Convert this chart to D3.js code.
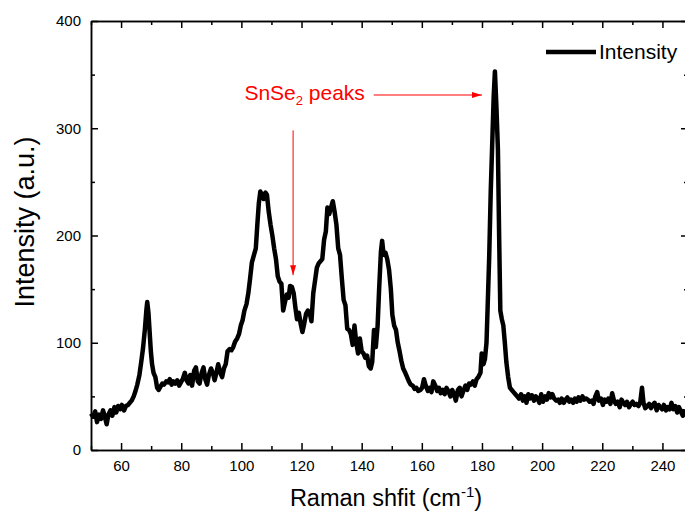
<!DOCTYPE html>
<html>
<head>
<meta charset="utf-8">
<script src="https://cdn.jsdelivr.net/npm/d3@7"></script>
<style>
  body { margin: 0; background: #fff; }
  svg { display: block; font-family: "Liberation Sans", Arial, sans-serif; }
</style>
</head>
<body>
<div id="chart"></div>
<script>
// Raman spectrum
let shift = [50, 50.7, 51.4, 52, 52.7, 53.3, 54, 54.6, 55.2, 55.8, 56.5, 57.1, 57.8, 58.4, 59, 59.7, 60.3, 61, 61.6, 62.3, 62.9, 63.5, 64.2, 64.8, 65.4, 66.1, 66.7, 67.3, 67.9, 68.4, 68.7, 69.1, 69.5, 69.9, 70.3, 70.8, 71.4, 72, 72.5, 73.1, 73.7, 74.3, 75, 75.6, 76.2, 76.8, 77.4, 78, 78.7, 79.3, 79.9, 80.5, 81.2, 81.8, 82.4, 83, 83.6, 84.3, 84.9, 85.5, 86.1, 86.8, 87.4, 88, 88.6, 89.2, 89.9, 90.5, 91.1, 91.7, 92.3, 93, 93.6, 94.2, 94.8, 95.4, 96.1, 96.7, 97.3, 97.9, 98.6, 99.2, 99.8, 100.4, 101, 101.7, 102.3, 102.9, 103.5, 104.1, 104.8, 105.3, 105.8, 106.3, 106.9, 107.4, 108, 108.5, 109.1, 109.7, 110.3, 110.9, 111.5, 112.1, 112.7, 113.3, 113.9, 114.5, 115.1, 115.7, 116.2, 116.8, 117.4, 118, 118.5, 119.1, 119.7, 120.3, 120.9, 121.5, 122.1, 122.7, 123.3, 123.9, 124.5, 125.1, 125.7, 126.3, 126.9, 127.5, 128.1, 128.6, 129.2, 129.8, 130.4, 131, 131.6, 132.2, 132.8, 133.4, 134, 134.6, 135.2, 135.8, 136.4, 137, 137.6, 138.2, 138.8, 139.4, 140, 140.6, 141.2, 141.8, 142.4, 143, 143.5, 144.1, 144.7, 145.3, 145.8, 146.4, 146.8, 147.3, 147.9, 148.5, 149.1, 149.7, 150.2, 150.8, 151.4, 152, 152.6, 153.2, 153.8, 154.5, 155.1, 155.7, 156.3, 157, 157.6, 158.2, 158.8, 159.5, 160.1, 160.7, 161.3, 162, 162.6, 163.2, 163.8, 164.5, 165.1, 165.7, 166.3, 167, 167.6, 168.2, 168.8, 169.5, 170.1, 170.7, 171.3, 172, 172.6, 173.2, 173.8, 174.5, 175.1, 175.7, 176.3, 177, 177.6, 178.2, 178.8, 179.5, 179.9, 180.5, 181, 181.5, 181.9, 182.4, 182.9, 183.4, 183.9, 184.3, 184.8, 185.3, 185.7, 186.1, 186.6, 187.1, 187.6, 188.1, 188.7, 189.3, 189.9, 190.5, 191.1, 191.7, 192.3, 193, 193.6, 194.2, 194.8, 195.4, 196, 196.6, 197.3, 197.9, 198.5, 199.1, 199.7, 200.3, 201, 201.6, 202.2, 202.8, 203.4, 204, 204.7, 205.3, 205.9, 206.5, 207.2, 207.8, 208.4, 209, 209.6, 210.3, 210.9, 211.5, 212.1, 212.7, 213.4, 214, 214.6, 215.2, 215.8, 216.5, 217.1, 217.7, 218.3, 218.9, 219.6, 220.2, 220.8, 221.4, 222, 222.7, 223.3, 223.9, 224.5, 225.1, 225.8, 226.4, 227, 227.6, 228.2, 228.9, 229.5, 230.1, 230.7, 231.3, 232, 232.6, 233.2, 233.7, 234.3, 235, 235.6, 236.2, 236.8, 237.4, 238.1, 238.7, 239.3, 239.9, 240.5, 241.2, 241.8, 242.4, 243, 243.6, 244.3, 244.9, 245.5, 246.1, 246.8, 247.4];
let intensity = [34, 31, 36, 26, 33, 29, 37, 31, 24, 33, 37, 32, 40, 35, 41, 38, 42, 37, 41, 42, 44, 46, 50, 55, 61, 70, 82, 95, 112, 130, 138, 128, 110, 92, 80, 72, 68, 58, 56, 59, 62, 61, 64, 63, 66, 61, 64, 62, 65, 60, 63, 66, 72, 65, 62, 70, 60, 74, 77, 64, 62, 72, 77, 66, 61, 70, 76, 72, 65, 72, 80, 72, 68, 76, 80, 92, 94, 93, 96, 101, 104, 108, 116, 121, 130, 136, 146, 160, 175, 181, 188, 210, 230, 241, 238, 234, 240, 238, 222, 210, 200, 188, 178, 162, 157, 155, 130, 138, 145, 142, 153, 152, 146, 132, 122, 128, 118, 110, 118, 127, 130, 128, 120, 146, 158, 170, 174, 176, 178, 196, 204, 226, 220, 226, 232, 222, 210, 188, 182, 160, 140, 135, 113, 112, 108, 98, 116, 100, 90, 104, 92, 90, 86, 88, 78, 76, 82, 112, 96, 116, 150, 185, 195, 182, 184, 178, 168, 150, 126, 116, 112, 100, 92, 83, 76, 72, 68, 64, 61, 60, 57, 58, 55, 56, 58, 66, 60, 55, 58, 54, 64, 60, 55, 58, 53, 56, 52, 58, 55, 50, 56, 52, 46, 56, 58, 50, 55, 60, 56, 62, 61, 64, 60, 66, 68, 72, 90, 80, 85, 100, 135, 180, 240, 285, 330, 353, 320, 280, 200, 130, 122, 116, 100, 82, 68, 58, 56, 54, 52, 50, 48, 52, 46, 50, 44, 52, 48, 51, 46, 50, 48, 44, 52, 45, 50, 47, 53, 49, 52, 48, 46, 47, 44, 48, 44, 47, 49, 45, 47, 44, 48, 45, 49, 46, 50, 47, 48, 47, 45, 46, 43, 50, 54, 46, 48, 42, 47, 45, 48, 43, 53, 46, 43, 45, 40, 47, 44, 42, 45, 40, 43, 45, 42, 43, 41, 44, 58, 44, 39, 41, 43, 39, 42, 44, 37, 42, 40, 38, 42, 37, 40, 38, 44, 38, 41, 35, 40, 36, 32, 38];

let xMajor = [60, 80, 100, 120, 140, 160, 180, 200, 220, 240];
let xMinor = [50, 70, 90, 110, 130, 150, 170, 190, 210, 230];
let yMajor = [0, 100, 200, 300, 400];
let yMinor = [50, 150, 250, 350];

let width = 685, height = 515;
let plotLeft = 91, plotTop = 21, plotRight = 688, plotBottom = 450;

let svg = d3.select("#chart").append("svg")
    .attr("width", width)
    .attr("height", height);

let x = d3.scaleLinear().domain([50, 248.5]).range([plotLeft, plotRight]);
let y = d3.scaleLinear().domain([0, 400]).range([plotBottom, plotTop]);

// axes, ticks point inwards on all four sides
function styleAxis(g) {
    g.selectAll("path").attr("stroke", "#000").attr("stroke-width", 1.5);
    g.selectAll("line").attr("stroke", "#000").attr("stroke-width", 1.5);
    g.selectAll("text").attr("fill", "#000").style("font-size", "15px")
        .style("font-family", "'Liberation Sans', Arial, sans-serif");
}

svg.append("g").attr("transform", `translate(0,${plotBottom})`)
    .call(d3.axisBottom(x).tickValues(xMinor).tickSize(-4).tickSizeOuter(0).tickFormat(""))
    .call(styleAxis);
svg.append("g").attr("transform", `translate(0,${plotBottom})`)
    .call(d3.axisBottom(x).tickValues(xMajor).tickSize(-7).tickSizeOuter(0).tickPadding(10))
    .call(styleAxis);
svg.append("g").attr("transform", `translate(0,${plotTop})`)
    .call(d3.axisTop(x).tickValues(xMinor).tickSize(-4).tickSizeOuter(0).tickFormat(""))
    .call(styleAxis);
svg.append("g").attr("transform", `translate(0,${plotTop})`)
    .call(d3.axisTop(x).tickValues(xMajor).tickSize(-7).tickSizeOuter(0).tickFormat(""))
    .call(styleAxis);

svg.append("g").attr("transform", `translate(${plotLeft},0)`)
    .call(d3.axisLeft(y).tickValues(yMinor).tickSize(-4).tickSizeOuter(0).tickFormat(""))
    .call(styleAxis);
svg.append("g").attr("transform", `translate(${plotLeft},0)`)
    .call(d3.axisLeft(y).tickValues(yMajor).tickSize(-7).tickSizeOuter(0).tickPadding(10))
    .call(styleAxis);
svg.append("g").attr("transform", `translate(${plotRight},0)`)
    .call(d3.axisRight(y).tickValues(yMinor).tickSize(-4).tickSizeOuter(0).tickFormat(""))
    .call(styleAxis);
svg.append("g").attr("transform", `translate(${plotRight},0)`)
    .call(d3.axisRight(y).tickValues(yMajor).tickSize(-7).tickSizeOuter(0).tickFormat(""))
    .call(styleAxis);

// the spectrum
let points = shift.map((s, i) => [s, intensity[i]]);
let line = d3.line().x(d => x(d[0])).y(d => y(d[1]));

svg.append("path")
    .datum(points)
    .attr("d", line)
    .attr("fill", "none")
    .attr("stroke", "#000")
    .attr("stroke-width", 4.5)
    .attr("stroke-linejoin", "round");

// axis titles
svg.append("text")
    .attr("x", 386)
    .attr("y", 506)
    .attr("text-anchor", "middle")
    .style("font-size", "23.5px")
    .html('Raman shfit (cm<tspan dy="-9" font-size="15px">-1</tspan><tspan dy="9">)</tspan>');

svg.append("text")
    .attr("transform", "translate(34,222) rotate(-90)")
    .attr("text-anchor", "middle")
    .style("font-size", "27px")
    .text("Intensity (a.u.)");

// legend
svg.append("line")
    .attr("x1", 546).attr("x2", 596)
    .attr("y1", 52).attr("y2", 52)
    .attr("stroke", "#000").attr("stroke-width", 4.5);
svg.append("text")
    .attr("x", 599).attr("y", 59)
    .style("font-size", "21px")
    .text("Intensity");

// annotation
let red = "#ff0000";
svg.append("defs").append("marker")
    .attr("id", "head")
    .attr("viewBox", "0 0 10 6")
    .attr("refX", 10).attr("refY", 3)
    .attr("markerWidth", 10).attr("markerHeight", 6)
    .attr("markerUnits", "userSpaceOnUse")
    .attr("orient", "auto")
    .append("path")
    .attr("d", "M0,0L10,3L0,6Z")
    .attr("fill", red);

svg.append("text")
    .attr("x", x(101)).attr("y", y(326))
    .attr("fill", red)
    .style("font-size", "21px")
    .html('SnSe<tspan dy="5" font-size="13px">2</tspan><tspan dy="-5"> peaks</tspan>');

svg.append("line")
    .attr("x1", x(144)).attr("y1", y(331))
    .attr("x2", x(180)).attr("y2", y(331))
    .attr("stroke", red).attr("stroke-width", 1)
    .attr("marker-end", "url(#head)");

svg.append("line")
    .attr("x1", x(117.2)).attr("y1", y(298))
    .attr("x2", x(117.2)).attr("y2", y(163))
    .attr("stroke", red).attr("stroke-width", 1)
    .attr("marker-end", "url(#head)");
</script>
</body>
</html>
